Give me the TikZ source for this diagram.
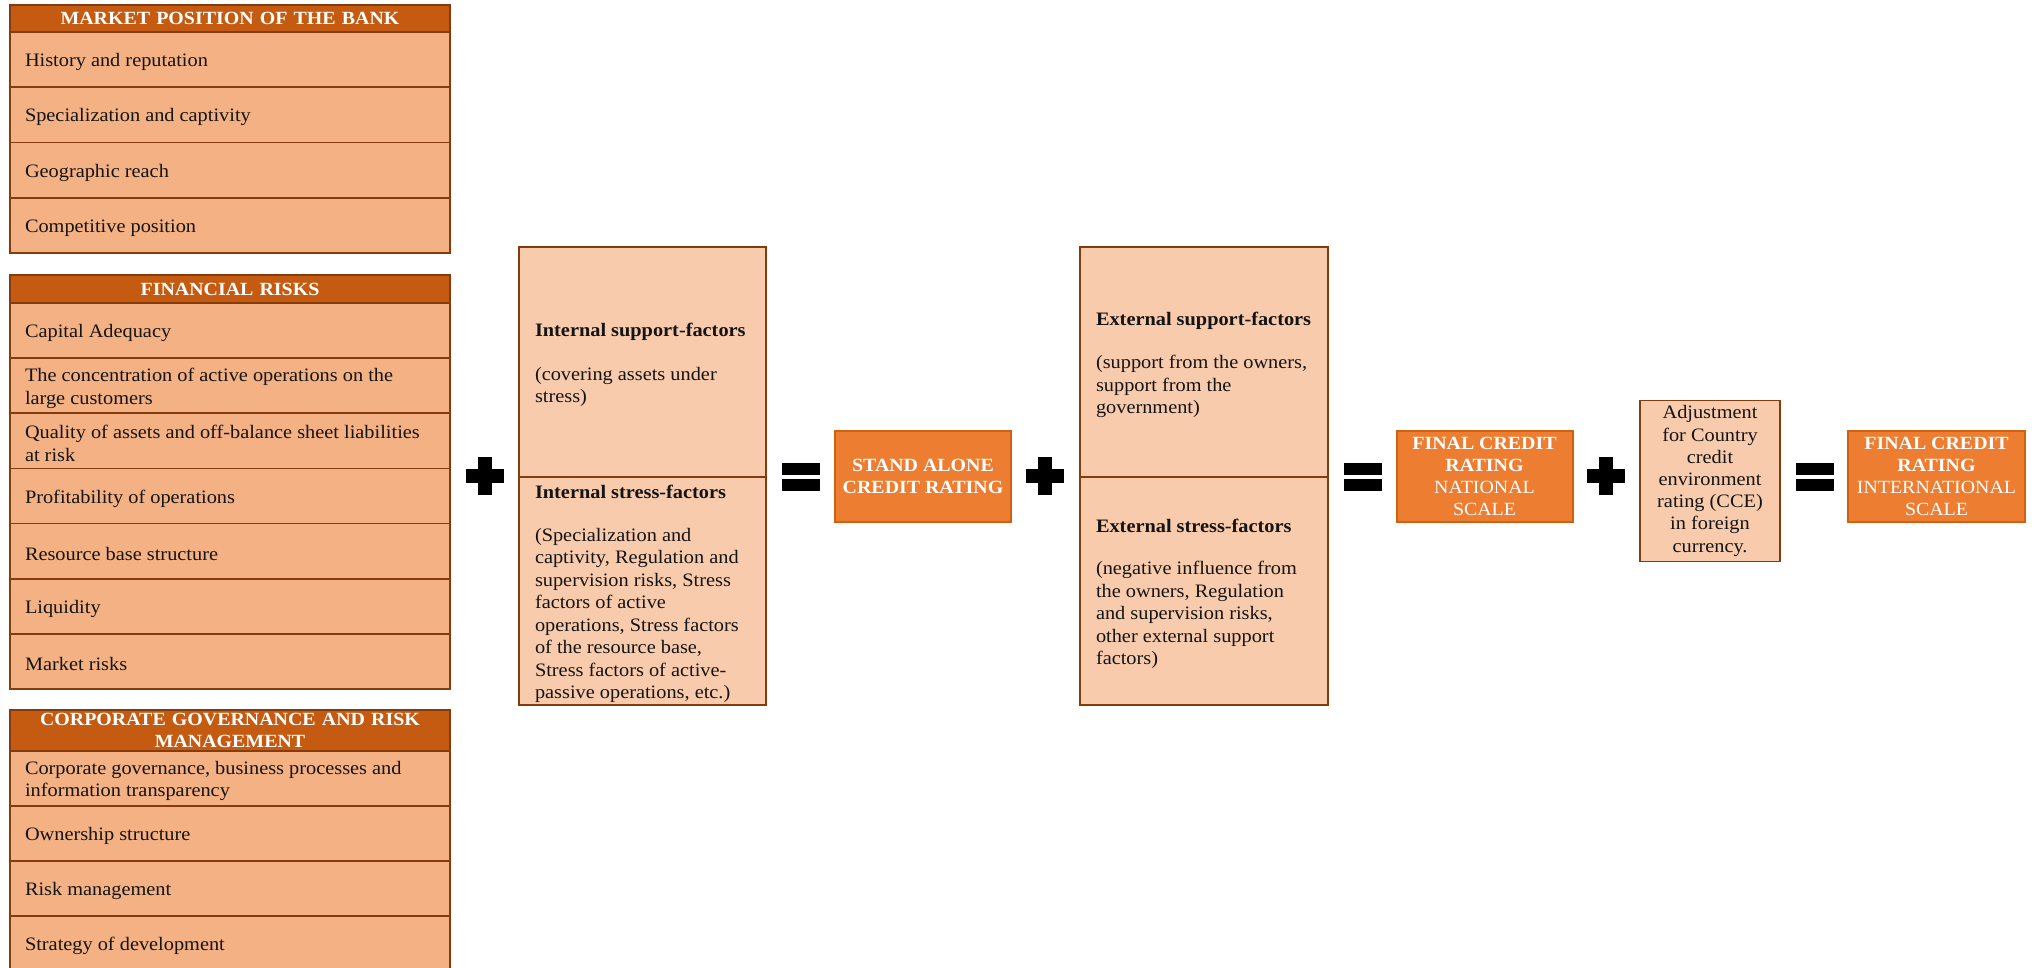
\documentclass[tikz,border=0pt]{standalone}
\usepackage{fontspec}
\setmainfont{Liberation Serif}[FakeStretch=1.07]
\definecolor{hdr}{HTML}{C55A11}
\definecolor{rowfill}{HTML}{F4B183}
\definecolor{midfill}{HTML}{F8CBAD}
\definecolor{brd}{HTML}{843C0C}
\definecolor{orng}{HTML}{ED7D31}
\definecolor{orngd}{HTML}{D0620F}
\definecolor{txt}{HTML}{141414}
\tikzset{
  base/.style={font=\fontsize{19}{22.5}\selectfont, inner sep=0pt, outer sep=0pt},
  cellrow/.style={base, draw=brd, line width=1.6pt, fill=rowfill,
    minimum width=440pt, minimum height=#1, anchor=north west},
  hdrcell/.style={base, font=\fontsize{18.6}{21.8}\selectfont\bfseries, draw=brd, line width=1.6pt,
    fill=hdr, text=white, minimum width=440pt, minimum height=#1, text width=420pt,
    inner xsep=10pt, align=center, anchor=north west},
  midbox/.style={base, draw=brd, line width=1.6pt, fill=midfill, anchor=north west},
  bodytxt/.style={base, text=txt, align=left, anchor=west},
  orangebox/.style={base, font=\fontsize{18.6}{22}\selectfont, fill=orng, draw=orngd, line width=2pt, text=white,
    align=center, minimum width=176pt, minimum height=91pt},
  adjbox/.style={base, fill=midfill, draw=brd, line width=1.6pt, text=txt,
    align=center, minimum width=140pt, minimum height=161pt},
  signfill/.style={fill=black}
}
\newcommand\rowcell[4]{%
  \node[cellrow=#3] (#1) at (10,#2) {};
  \node[bodytxt] (#1t) at ([xshift=15pt,yshift=-2.5pt]#1.west) {#4};
}
\begin{document}
\begin{tikzpicture}[x=1pt,y=-1pt]
\useasboundingbox (0,0) rectangle (2035,968);
\fill[white] (0,0) rectangle (2035,968);

% ---- Market position
\node[hdrcell=27pt] (mkth) at (10,5) {MARKET POSITION OF THE BANK};
\rowcell{mkt1}{32}{55.25pt}{History and reputation}
\rowcell{mkt2}{87.25}{55.25pt}{Specialization and captivity}
\rowcell{mkt3}{142.5}{55.25pt}{Geographic reach}
\rowcell{mkt4}{197.75}{55.25pt}{Competitive position}

% ---- Financial risks
\node[hdrcell=28pt] (finh) at (10,275) {FINANCIAL RISKS};
\rowcell{fin1}{303}{55.14pt}{Capital Adequacy}
\rowcell{fin2}{358.14}{55.14pt}{The concentration of active operations on the\\large customers}
\rowcell{fin3}{413.28}{55.14pt}{Quality of assets and off-balance sheet liabilities\\at risk}
\rowcell{fin4}{468.42}{55.14pt}{Profitability of operations}
\rowcell{fin5}{523.56}{55.14pt}{Resource base structure}
\rowcell{fin6}{578.7}{55.14pt}{Liquidity}
\rowcell{fin7}{633.84}{55.14pt}{Market risks}

% ---- Corporate governance
\node[hdrcell=41pt] (corh) at (10,710) {CORPORATE GOVERNANCE AND RISK\\MANAGEMENT};
\rowcell{cor1}{751}{55pt}{Corporate governance, business processes and\\information transparency}
\rowcell{cor2}{806}{55pt}{Ownership structure}
\rowcell{cor3}{861}{55pt}{Risk management}
\rowcell{cor4}{916}{55pt}{Strategy of development}

% ---- Internal factors
\node[midbox, minimum width=247pt, minimum height=230pt] (intsup) at (519,247) {};
\node[midbox, minimum width=247pt, minimum height=228pt] (intstr) at (519,477) {};
\node[bodytxt] (intsupt) at ([xshift=16pt,yshift=-3pt]intsup.west)
  {\textbf{Internal support-factors}\\[21pt](covering assets under\\stress)};
\node[bodytxt] (intstrt) at ([xshift=16pt,yshift=-3pt]intstr.west)
  {\textbf{Internal stress-factors}\\[20pt](Specialization and\\captivity, Regulation and\\supervision risks, Stress\\factors of active\\operations, Stress factors\\of the resource base,\\Stress factors of active-\\passive operations, etc.)};

% ---- Stand alone
\node[orangebox] (sa) at (923,476.5) {\textbf{STAND ALONE}\\\textbf{CREDIT RATING}};

% ---- External factors
\node[midbox, minimum width=248pt, minimum height=230pt] (extsup) at (1080,247) {};
\node[midbox, minimum width=248pt, minimum height=228pt] (extstr) at (1080,477) {};
\node[bodytxt] (extsupt) at ([xshift=16pt,yshift=-3pt]extsup.west)
  {\textbf{External support-factors}\\[21pt](support from the owners,\\support from the\\government)};
\node[bodytxt] (extstrt) at ([xshift=16pt,yshift=-3pt]extstr.west)
  {\textbf{External stress-factors}\\[20pt](negative influence from\\the owners, Regulation\\and supervision risks,\\other external support\\factors)};

% ---- Final national
\node[orangebox] (fnat) at (1484.5,476.5) {\textbf{FINAL CREDIT}\\\textbf{RATING}\\NATIONAL\\SCALE};

% ---- Adjustment
\node[adjbox, font=\fontsize{19}{22.2}\selectfont] (adj) at (1710,481) {Adjustment\\for Country\\credit\\environment\\rating (CCE)\\in foreign\\currency.};

% ---- Final international
\node[orangebox, minimum width=177pt] (fint) at (1936.5,476.5) {\textbf{FINAL CREDIT}\\\textbf{RATING}\\INTERNATIONAL\\SCALE};

% ---- plus signs
\foreach \cx in {485,1045,1606} {
  \fill[signfill] (\cx-19,469) rectangle (\cx+19,483);
  \fill[signfill] (\cx-7,457) rectangle (\cx+7,495);
}
% ---- equals signs
\foreach \cx in {801,1363,1815} {
  \fill[signfill] (\cx-19,463) rectangle (\cx+19,475);
  \fill[signfill] (\cx-19,479) rectangle (\cx+19,491);
}
\end{tikzpicture}
\end{document}
